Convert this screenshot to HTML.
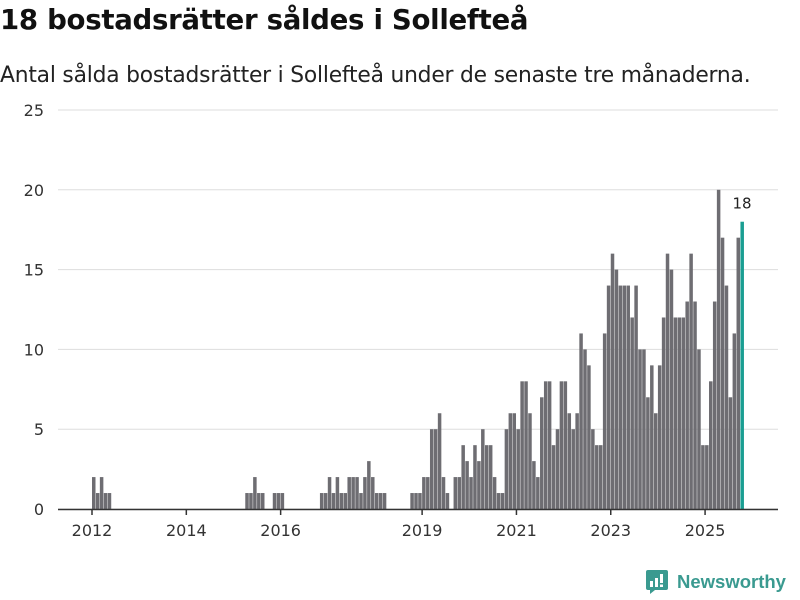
<!DOCTYPE html>
<html><head><meta charset="utf-8"><style>
body{margin:0;background:#fff;font-family:"Liberation Sans","DejaVu Sans",sans-serif;}
#wrap{position:relative;width:800px;height:600px;overflow:hidden;}
</style></head><body>
<div id="wrap">
<div style="position:absolute;left:0;top:3px;font-size:27.6px;font-weight:bold;color:#111;font-family:'DejaVu Sans','Liberation Sans',sans-serif;letter-spacing:-0.3px">18 bostadsrätter såldes i Sollefteå</div>
<div style="position:absolute;left:0;top:63px;font-size:21.8px;color:#222;font-family:'DejaVu Sans','Liberation Sans',sans-serif;letter-spacing:-0.2px">Antal sålda bostadsrätter i Sollefteå under de senaste tre månaderna.</div>
<svg id="chart" width="800" height="600" style="position:absolute;left:0;top:0"></svg>
<div style="position:absolute;left:645px;top:569px;display:flex;align-items:center">
<svg width="24" height="26"><path d="M1 3 Q1 1 3 1 H21 Q23 1 23 3 V19 Q23 21 21 21 H10 L5 25 V21 H3 Q1 21 1 19 Z" fill="#3a9a90"/><rect x="5" y="12" width="3" height="6" fill="#fff"/><rect x="10" y="9" width="3" height="9" fill="#fff"/><rect x="15" y="5" width="3" height="9" fill="#fff"/><rect x="15" y="15.5" width="3" height="2.5" fill="#fff"/></svg>
<span style="margin-left:8px;font-size:18.5px;font-weight:bold;color:#3a9a90;font-family:'Liberation Sans','DejaVu Sans',sans-serif">Newsworthy</span>
</div>
</div>
<script>
const startYear = 2012;
const values = [
2,1,2,1,1,0,0,0,0,0,0,0,
0,0,0,0,0,0,0,0,0,0,0,0,
0,0,0,0,0,0,0,0,0,0,0,0,
0,0,0,1,1,2,1,1,0,0,1,1,
1,0,0,0,0,0,0,0,0,0,1,1,
2,1,2,1,1,2,2,2,1,2,3,2,
1,1,1,0,0,0,0,0,0,1,1,1,
2,2,5,5,6,2,1,0,2,2,4,3,
2,4,3,5,4,4,2,1,1,5,6,6,
5,8,8,6,3,2,7,8,8,4,5,8,
8,6,5,6,11,10,9,5,4,4,11,14,
16,15,14,14,14,12,14,10,10,7,9,6,
9,12,16,15,12,12,12,13,16,13,10,4,
4,8,13,20,17,14,7,11,17,18
];
const yTicks = [0,5,10,15,20,25];
const xTickYears = [2012,2014,2016,2019,2021,2023,2025];

const svg = document.getElementById('chart');
const NS = 'http://www.w3.org/2000/svg';
const y0 = 509, pxPerUnit = 15.96, x0 = 92, pxPerMonth = 3.93;
function yScale(v){ return y0 - v*pxPerUnit; }
function xScale(i){ return x0 + i*pxPerMonth; }
function mk(tag, attrs){ const e=document.createElementNS(NS,tag); for(const k in attrs) e.setAttribute(k,attrs[k]); svg.appendChild(e); return e; }

yTicks.forEach(t=>{
  const g = mk('line',{x1:58,x2:778,y1:yScale(t),y2:yScale(t),stroke:'#ddd','stroke-width':1});
  
  
  const l = mk('text',{x:44,y:yScale(t)+6,'text-anchor':'end','font-size':16,fill:'#333','font-family':'DejaVu Sans, Liberation Sans, sans-serif'});
  l.textContent = t;
  
  
});

values.forEach((v,i)=>{
  if(v<=0) return;
  const last = i===values.length-1;
  const r = mk('rect',{x:xScale(i),y:yScale(v),width:3.5,height:v*pxPerUnit,fill:last?'#1a9e92':'#6e6d72'});
  
  
});

const ax = mk('line',{x1:58,x2:778,y1:y0+0.5,y2:y0+0.5,stroke:'#333','stroke-width':1.5});



xTickYears.forEach(yr=>{
  const x = xScale((yr-startYear)*12);
  const t = mk('line',{x1:x,x2:x,y1:y0,y2:y0+6,stroke:'#333','stroke-width':1.5});
  
  
  const l = mk('text',{x:x,y:y0+27,'text-anchor':'middle','font-size':16,fill:'#333','font-family':'DejaVu Sans, Liberation Sans, sans-serif'});
  l.textContent = yr;
  
  
});

const li = values.length-1;
const lab = mk('text',{x:xScale(li)+1.6,y:yScale(values[li])-13,'text-anchor':'middle','font-size':15,fill:'#222','font-family':'DejaVu Sans, Liberation Sans, sans-serif'});
lab.textContent = values[li];


</script>
</body></html>
